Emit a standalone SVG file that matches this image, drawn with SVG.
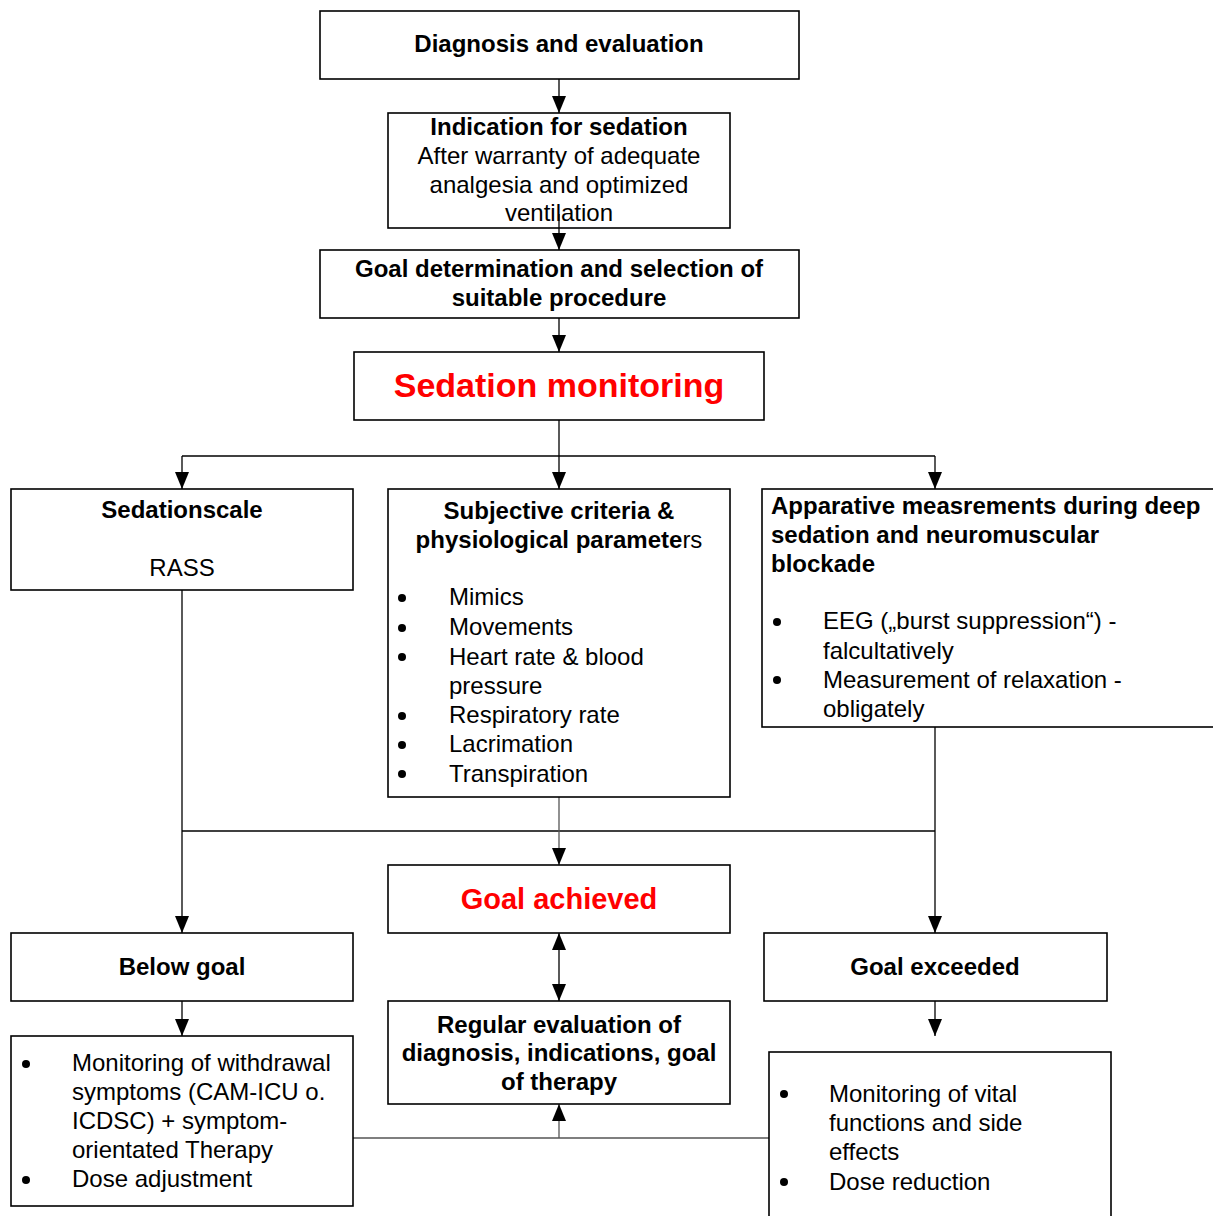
<svg xmlns="http://www.w3.org/2000/svg" width="1213" height="1216" viewBox="0 0 1213 1216">
  <style>
    .box { fill: #fff; stroke: #000; stroke-width: 1.6; }
    .t { font-family: "Liberation Sans", Arial, sans-serif; font-size: 24px; fill: #000; }
    .b { font-weight: bold; }
    .c { text-anchor: middle; }
    .red { fill: #f00; font-weight: bold; }
    .ln { fill: none; stroke: #000; stroke-width: 1.3; }
    .lg { fill: none; stroke: #555; stroke-width: 1.3; }
    .dot { fill: #000; }
  </style>
  <defs>
    <marker id="ah" markerUnits="userSpaceOnUse" markerWidth="17" markerHeight="14" refX="17" refY="7" orient="auto-start-reverse" viewBox="0 0 17 14">
      <path d="M0,0 L17,7 L0,14 Z" fill="#000"/>
    </marker>
  </defs>

  <!-- connectors -->
  <g id="connectors">
    <line class="ln" x1="559" y1="79" x2="559" y2="113" marker-end="url(#ah)"/>
    <line class="ln" x1="559" y1="214" x2="559" y2="250" marker-end="url(#ah)"/>
    <line class="ln" x1="559" y1="318" x2="559" y2="352" marker-end="url(#ah)"/>
    <polyline class="ln" points="559,420 559,456"/>
    <polyline class="ln" points="182,456 935,456"/>
    <line class="ln" x1="182" y1="456" x2="182" y2="489" marker-end="url(#ah)"/>
    <line class="ln" x1="559" y1="456" x2="559" y2="489" marker-end="url(#ah)"/>
    <line class="ln" x1="935" y1="456" x2="935" y2="489" marker-end="url(#ah)"/>
    <line class="ln" x1="182" y1="590" x2="182" y2="933" marker-end="url(#ah)"/>
    <line class="ln" x1="935" y1="727" x2="935" y2="933" marker-end="url(#ah)"/>
    <line class="ln" x1="182" y1="831" x2="935" y2="831"/>
    <line class="lg" x1="559" y1="797" x2="559" y2="865" marker-end="url(#ah)"/>
    <line class="ln" x1="559" y1="933" x2="559" y2="1001" marker-start="url(#ah)" marker-end="url(#ah)"/>
    <line class="ln" x1="182" y1="1001" x2="182" y2="1036" marker-end="url(#ah)"/>
    <line class="ln" x1="935" y1="1001" x2="935" y2="1036" marker-end="url(#ah)"/>
    <line class="lg" x1="353" y1="1138" x2="769" y2="1138"/>
    <line class="lg" x1="559" y1="1138" x2="559" y2="1104" marker-end="url(#ah)"/>
  </g>

  <g id="diagnosis">
    <rect class="box" x="320" y="11" width="479" height="68"/>
    <text class="t b c" x="559" y="52">Diagnosis and evaluation</text>
  </g>

  <g id="indication">
    <rect class="box" x="388" y="113" width="342" height="115" style="fill:none"/>
    <text class="t b c" x="559" y="135">Indication for sedation</text>
    <text class="t c" x="559" y="164">After warranty of adequate</text>
    <text class="t c" x="559" y="193">analgesia and optimized</text>
    <text class="t c" x="559" y="221">ventilation</text>
  </g>

  <g id="goal-determination">
    <rect class="box" x="320" y="250" width="479" height="68"/>
    <text class="t b c" x="559" y="277">Goal determination and selection of</text>
    <text class="t b c" x="559" y="306">suitable procedure</text>
  </g>

  <g id="sedation-monitoring">
    <rect class="box" x="354" y="352" width="410" height="68"/>
    <text class="t red c" x="559" y="397" style="font-size:34px">Sedation monitoring</text>
  </g>

  <g id="sedationscale">
    <rect class="box" x="11" y="489" width="342" height="101"/>
    <text class="t b c" x="182" y="518">Sedationscale</text>
    <text class="t c" x="182" y="576">RASS</text>
  </g>

  <g id="subjective">
    <rect class="box" x="388" y="489" width="342" height="308"/>
    <text class="t b c" x="559" y="519">Subjective criteria &amp;</text>
    <text class="t c" x="559" y="548"><tspan class="b">physiological paramete</tspan>rs</text>
    <g class="dot">
      <circle cx="402" cy="598" r="4"/>
      <circle cx="402" cy="628" r="4"/>
      <circle cx="402" cy="657" r="4"/>
      <circle cx="402" cy="716" r="4"/>
      <circle cx="402" cy="745" r="4"/>
      <circle cx="402" cy="774" r="4"/>
    </g>
    <g class="t">
      <text x="449" y="605">Mimics</text>
      <text x="449" y="635">Movements</text>
      <text x="449" y="665">Heart rate &amp; blood</text>
      <text x="449" y="694">pressure</text>
      <text x="449" y="723">Respiratory rate</text>
      <text x="449" y="752">Lacrimation</text>
      <text x="449" y="782">Transpiration</text>
    </g>
  </g>

  <g id="apparative">
    <rect class="box" x="762" y="489" width="460" height="238"/>
    <text class="t b" x="771" y="514">Apparative measrements during deep</text>
    <text class="t b" x="771" y="543">sedation and neuromuscular</text>
    <text class="t b" x="771" y="572">blockade</text>
    <g class="dot">
      <circle cx="777" cy="622" r="4"/>
      <circle cx="777" cy="680" r="4"/>
    </g>
    <g class="t">
      <text x="823" y="629">EEG („burst suppression“) -</text>
      <text x="823" y="659">falcultatively</text>
      <text x="823" y="688">Measurement of relaxation -</text>
      <text x="823" y="717">obligately</text>
    </g>
  </g>

  <g id="goal-achieved">
    <rect class="box" x="388" y="865" width="342" height="68"/>
    <text class="t red c" x="559" y="909" style="font-size:29px">Goal achieved</text>
  </g>

  <g id="below-goal">
    <rect class="box" x="11" y="933" width="342" height="68"/>
    <text class="t b c" x="182" y="975">Below goal</text>
  </g>

  <g id="goal-exceeded">
    <rect class="box" x="764" y="933" width="343" height="68"/>
    <text class="t b c" x="935" y="975">Goal exceeded</text>
  </g>

  <g id="regular-evaluation">
    <rect class="box" x="388" y="1001" width="342" height="103"/>
    <text class="t b c" x="559" y="1033">Regular evaluation of</text>
    <text class="t b c" x="559" y="1061">diagnosis, indications, goal</text>
    <text class="t b c" x="559" y="1090">of therapy</text>
  </g>

  <g id="below-actions">
    <rect class="box" x="11" y="1036" width="342" height="170"/>
    <g class="dot">
      <circle cx="26" cy="1064" r="4"/>
      <circle cx="26" cy="1180" r="4"/>
    </g>
    <g class="t">
      <text x="72" y="1071">Monitoring of withdrawal</text>
      <text x="72" y="1100">symptoms (CAM-ICU o.</text>
      <text x="72" y="1129">ICDSC) + symptom-</text>
      <text x="72" y="1158">orientated Therapy</text>
      <text x="72" y="1187">Dose adjustment</text>
    </g>
  </g>

  <g id="exceeded-actions">
    <rect class="box" x="769" y="1052" width="342" height="180"/>
    <g class="dot">
      <circle cx="784" cy="1094" r="4"/>
      <circle cx="784" cy="1182" r="4"/>
    </g>
    <g class="t">
      <text x="829" y="1102">Monitoring of vital</text>
      <text x="829" y="1131">functions and side</text>
      <text x="829" y="1160">effects</text>
      <text x="829" y="1190">Dose reduction</text>
    </g>
  </g>
</svg>
